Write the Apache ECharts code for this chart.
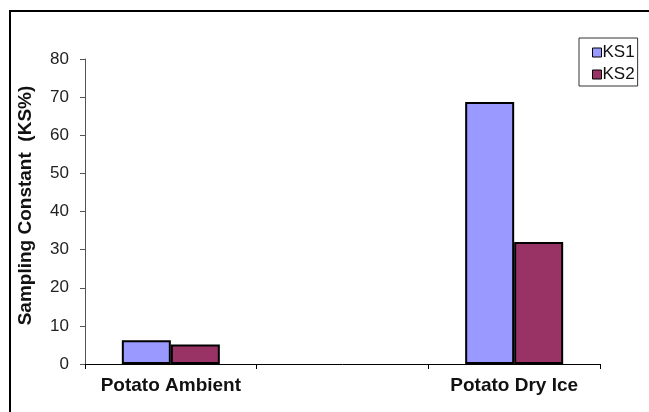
<!DOCTYPE html>
<html>
<head>
<meta charset="utf-8">
<script src="https://cdn.jsdelivr.net/npm/echarts@6/dist/echarts.min.js"></script>
<style>html,body{margin:0;padding:0;background:#fff}#c{width:649px;height:412px}</style>
</head>
<body>
<div id="c"></div>
<script>
var categories = ['Potato Ambient', '', 'Potato Dry Ice'];
var ks1 = [6.2, null, 68.7];
var ks2 = [5.1, null, 32.0];
var yTicks = [0, 10, 20, 30, 40, 50, 60, 70, 80];

var chart = echarts.init(document.getElementById('c'), null, {renderer: 'canvas'});
var font = 'Arial, "Liberation Sans", sans-serif';
chart.setOption({
  animation: false,
  backgroundColor: '#fff',
  graphic: [{
    type: 'polyline',
    shape: {points: [[10, 412], [10, 11], [649, 11]]},
    style: {stroke: '#000', lineWidth: 2, fill: null}
  }],
  grid: {left: 85, right: 49, top: 59, bottom: 48, containLabel: false},
  legend: {
    orient: 'vertical',
    left: 579, top: 38,
    padding: [6, 3, 3, 13],
    itemGap: 5,
    itemWidth: 9, itemHeight: 9,
    icon: 'rect',
    borderColor: '#333', borderWidth: 1,
    itemStyle: {borderColor: '#000', borderWidth: 1},
    textStyle: {fontFamily: font, fontSize: 17, color: '#111', padding: [0, 0, 0, -4]},
    data: ['KS1', 'KS2']
  },
  xAxis: {
    type: 'category',
    data: categories,
    axisLine: {lineStyle: {color: '#000', width: 1}},
    axisTick: {show: true, length: 5, lineStyle: {color: '#000'}},
    axisLabel: {fontFamily: font, fontSize: 19, fontWeight: 'bold', color: '#111', margin: 12, interval: 0},
    splitLine: {show: false}
  },
  yAxis: {
    type: 'value',
    min: yTicks[0], max: yTicks[yTicks.length - 1], interval: 10,
    name: 'Sampling Constant  (KS%)',
    nameLocation: 'middle',
    nameGap: 50,
    nameTextStyle: {fontFamily: font, fontSize: 19, fontWeight: 'bold', color: '#111', padding: [0, 0, 0, 12]},
    axisLine: {show: true, lineStyle: {color: '#555', width: 1}},
    axisTick: {show: true, length: 5, lineStyle: {color: '#555'}},
    axisLabel: {fontFamily: font, fontSize: 17, color: '#222', margin: 16},
    splitLine: {show: false}
  },
  series: [{
    name: 'KS1', type: 'bar', data: ks1,
    barWidth: 49, barGap: '0%',
    itemStyle: {color: '#9999FF', borderColor: '#000', borderWidth: 2}
  }, {
    name: 'KS2', type: 'bar', data: ks2,
    barWidth: 49, barGap: '0%',
    itemStyle: {color: '#993366', borderColor: '#000', borderWidth: 2}
  }]
});
</script>
</body>
</html>
